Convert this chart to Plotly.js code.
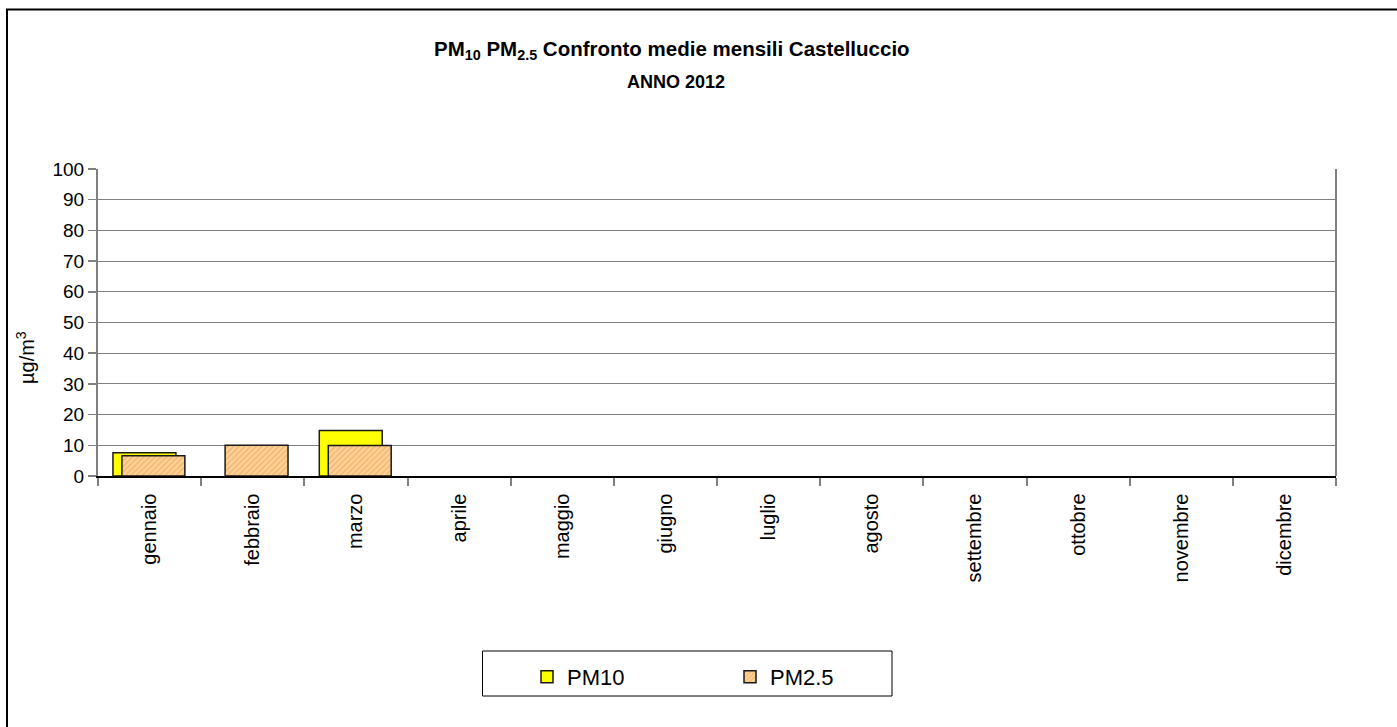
<!DOCTYPE html>
<html>
<head>
<meta charset="utf-8">
<script src="https://cdn.plot.ly/plotly-3.0.1.min.js"></script>
<style>
html,body{margin:0;padding:0;background:#fff;}
#chart{width:1397px;height:727px;}
</style>
</head>
<body>
<div id="chart"></div>
<script>
const months = ['gennaio','febbraio','marzo','aprile','maggio','giugno','luglio','agosto','settembre','ottobre','novembre','dicembre'];
const pm10 = [7.6, null, 14.8, null, null, null, null, null, null, null, null, null];
const pm25 = [6.6, 10.0, 9.9, null, null, null, null, null, null, null, null, null];
const yTicks = [0,10,20,30,40,50,60,70,80,90,100];

const W = 1397, H = 727;
const L = 98, R = 1336, T = 169, B = 476;
const pw = R - L, ph = B - T;
const px = x => (x - L) / pw;
const py = y => (B - y) / ph;
const FONT = 'Liberation Sans, Arial, sans-serif';

const traces = [
  {
    type: 'bar', name: 'PM10', x: months, y: pm10,
    width: 0.61, offset: -0.355,
    marker: {color: '#FFFF00', line: {color: '#1a1a1a', width: 1.5}},
    hoverinfo: 'skip'
  },
  {
    type: 'bar', name: 'PM2.5', x: months, y: pm25,
    width: 0.61, offset: -0.268,
    marker: {color: '#FFCC88', line: {color: '#1a1a1a', width: 1.5},
      pattern: {shape: '/', fgcolor: '#F2B468', bgcolor: '#FFD299', size: 4, solidity: 0.35}},
    hoverinfo: 'skip'
  }
];

const layout = {
  width: W, height: H,
  margin: {l: L, r: W - R, t: T, b: H - B, pad: 0},
  paper_bgcolor: '#ffffff', plot_bgcolor: '#ffffff',
  barmode: 'overlay',
  showlegend: true,
  font: {family: FONT, color: '#000', size: 18},
  xaxis: {
    type: 'category', categoryorder: 'array', categoryarray: months,
    range: [-0.5, 11.5],
    tickson: 'boundaries', ticks: 'outside', ticklen: 8, tickcolor: '#808080', tickwidth: 2,
    tickangle: -90, tickfont: {family: FONT, size: 20, color: '#000'},
    ticklabelstandoff: 8,
    showline: true, linecolor: '#000', linewidth: 1.5,
    showgrid: false, zeroline: false, fixedrange: true
  },
  yaxis: {
    range: [0, 100], tickvals: yTicks, ticktext: yTicks.map(String),
    ticks: 'outside', ticklen: 8, tickcolor: '#808080', tickwidth: 1.5,
    tickfont: {family: FONT, size: 19, color: '#000'},
    showline: true, linecolor: '#808080', linewidth: 2,
    showgrid: true, gridcolor: '#808080', gridwidth: 1,
    zeroline: false, fixedrange: true
  },
  legend: {
    orientation: 'h', x: px(527), y: py(656), xanchor: 'left', yanchor: 'top',
    bgcolor: 'rgba(0,0,0,0)', borderwidth: 0,
    font: {family: FONT, size: 22, color: '#000'},
    entrywidth: 158, entrywidthmode: 'pixels', itemclick: false, itemdoubleclick: false
  },
  shapes: [
    {type: 'rect', xref: 'paper', yref: 'paper', x0: px(7), x1: px(1402), y0: py(733), y1: py(9.5),
     line: {color: '#000', width: 2}, fillcolor: 'rgba(0,0,0,0)', layer: 'below'},
    {type: 'line', xref: 'paper', yref: 'paper', x0: 1, x1: 1, y0: 0, y1: 1,
     line: {color: '#808080', width: 2}, layer: 'below'},
    {type: 'rect', xref: 'paper', yref: 'paper', x0: px(482.5), x1: px(892), y0: py(696), y1: py(651),
     line: {color: '#000', width: 1}, fillcolor: 'rgba(0,0,0,0)', layer: 'below'}
  ],
  annotations: [
    {xref: 'paper', yref: 'paper', x: px(672), y: py(50), xanchor: 'center', yanchor: 'middle',
     text: '<b>PM<sub>10</sub> PM<sub>2.5</sub> Confronto medie mensili Castelluccio</b>', showarrow: false,
     font: {family: FONT, size: 20.5, color: '#000'}},
    {xref: 'paper', yref: 'paper', x: px(676), y: py(82), xanchor: 'center', yanchor: 'middle',
     text: '<b>ANNO 2012</b>', showarrow: false,
     font: {family: FONT, size: 18, color: '#000'}},
    {xref: 'paper', yref: 'paper', x: px(25), y: py(358), xanchor: 'center', yanchor: 'middle',
     text: 'µg/m<sup>3</sup>', textangle: -90, showarrow: false,
     font: {family: FONT, size: 20, color: '#000'}}
  ]
};

Plotly.newPlot('chart', traces, layout, {staticPlot: true, displayModeBar: false});
</script>
</body>
</html>
